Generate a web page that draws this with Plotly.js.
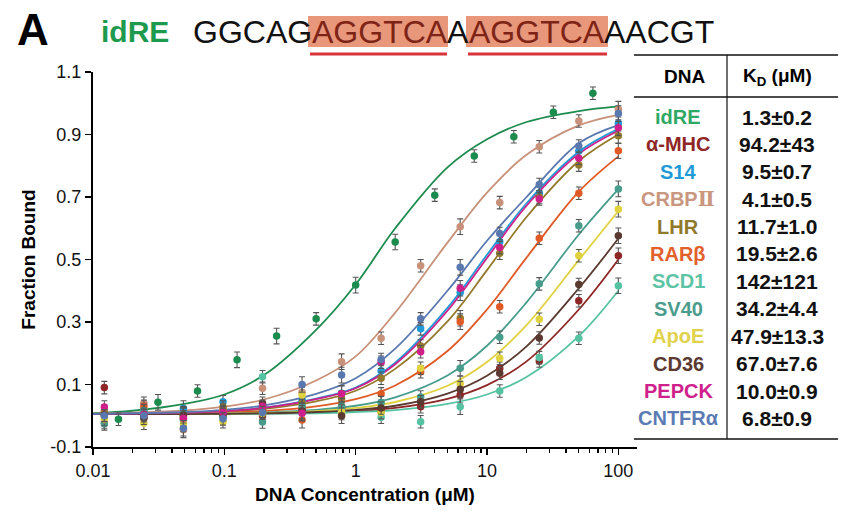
<!DOCTYPE html>
<html>
<head>
<meta charset="utf-8">
<script src="https://cdn.plot.ly/plotly-3.0.1.min.js"></script>
<style>html,body{margin:0;padding:0;background:#fff;}#chart{width:842px;height:512px;}</style>
</head>
<body>
<div id="chart"></div>
<script>
// ---------- DATA ----------
const names = ["idRE","α-MHC","S14","CRBPⅡ","LHR","RARβ","SCD1","SV40","ApoE","CD36","PEPCK","CNTFRα"];
const kdLabels = ["1.3±0.2","94.2±43","9.5±0.7","4.1±0.5","11.7±1.0","19.5±2.6","142±121","34.2±4.4","47.9±13.3","67.0±7.6","10.0±0.9","6.8±0.9"];
const seqParts = ["GGCAG", "AGGTCA", "A", "AGGTCA", "AACGT"];

const conc = [100, 50, 25, 12.5, 6.25, 3.125, 1.5625, 0.78125, 0.390625, 0.1953, 0.0977, 0.0488, 0.0244, 0.0122];
const concIdRE = [64, 32, 16, 8, 4, 2, 1, 0.5, 0.25, 0.125, 0.0625, 0.03125, 0.015625];

const pts_idRE  = [1.032, 0.971, 0.893, 0.831, 0.706, 0.556, 0.418, 0.31, 0.255, 0.179, 0.079, 0.043, -0.011];
const pts_aMHC  = [0.512, 0.368, 0.175, 0.152, 0.066, 0.029, 0.015, 0.02, 0.02, 0.0, 0.0, -0.01, -0.004, 0.09];
const pts_S14   = [0.936, 0.847, 0.712, 0.557, 0.394, 0.278, 0.144, 0.072, 0.05, 0.025, 0.045, 0.023, 0.01, 0.005];
const pts_CRBP  = [0.981, 0.943, 0.861, 0.682, 0.605, 0.48, 0.248, 0.173, 0.075, 0.088, 0.02, -0.045, 0.04, 0.015];
const pts_LHR   = [0.896, 0.802, 0.70, 0.52, 0.312, 0.223, 0.12, 0.055, 0.04, 0.02, 0.028, 0.0, 0.02, 0.01];
const pts_RARb  = [0.848, 0.712, 0.568, 0.349, 0.301, 0.141, 0.07, 0.03, -0.014, 0.015, 0.014, 0.0, 0.03, 0.0];
const pts_SCD1  = [0.416, 0.248, 0.186, 0.079, 0.029, -0.019, -0.005, 0.018, 0.01, 0.125, 0.002, -0.015, 0.015, -0.02];
const pts_SV40  = [0.726, 0.608, 0.422, 0.251, 0.152, 0.06, 0.042, 0.03, 0.029, -0.02, -0.005, 0.005, 0.017, -0.026];
const pts_ApoE  = [0.661, 0.512, 0.309, 0.184, 0.102, 0.152, 0.01, 0.012, 0.066, 0.008, -0.019, -0.026, -0.024, -0.012];
const pts_CD36  = [0.576, 0.42, 0.249, 0.136, 0.085, 0.045, 0.025, 0.0, 0.015, 0.04, 0.005, 0.002, -0.008, 0.002];
const pts_PEPCK = [0.922, 0.824, 0.694, 0.538, 0.408, 0.205, 0.171, 0.07, 0.008, 0.03, 0.01, -0.008, 0.005, 0.028];
const pts_CNTF  = [0.967, 0.863, 0.74, 0.583, 0.475, 0.31, 0.18, 0.13, 0.10, 0.01, -0.01, -0.04, 0.0, 0.0];

const err_idRE  = [0.02, 0.02, 0.02, 0.02, 0.02, 0.025, 0.025, 0.02, 0.025, 0.025, 0.02, 0.025, 0.02];
const err_common = [0.025, 0.02, 0.02, 0.02, 0.025, 0.02, 0.02, 0.025, 0.025, 0.02, 0.02, 0.025, 0.02, 0.02];

// fitted curves
const curveX = [0.01, 0.02, 0.05, 0.1, 0.2, 0.5, 1, 2, 5, 10, 20, 50, 100];
const fit_idRE  = [0.008, 0.016, 0.038, 0.068, 0.13, 0.275, 0.42, 0.60, 0.795, 0.885, 0.94, 0.975, 0.99];
const fit_aMHC  = [0.005, 0.005, 0.0055, 0.006, 0.007, 0.010, 0.015, 0.025, 0.054, 0.098, 0.174, 0.34, 0.50];
const fit_S14   = [0.006, 0.007, 0.010, 0.015, 0.026, 0.055, 0.09, 0.17, 0.345, 0.515, 0.68, 0.845, 0.918];
const fit_CRBP  = [0.007, 0.010, 0.017, 0.029, 0.052, 0.113, 0.19, 0.33, 0.554, 0.714, 0.835, 0.929, 0.963];
const fit_LHR   = [0.006, 0.007, 0.009, 0.013, 0.022, 0.046, 0.08, 0.15, 0.302, 0.466, 0.636, 0.815, 0.90];
const fit_RARb  = [0.005, 0.006, 0.0075, 0.01, 0.015, 0.03, 0.053, 0.097, 0.207, 0.34, 0.506, 0.717, 0.83];
const fit_SCD1  = [0.005, 0.005, 0.005, 0.006, 0.006, 0.008, 0.012, 0.018, 0.038, 0.068, 0.124, 0.255, 0.40];
const fit_SV40  = [0.005, 0.0055, 0.006, 0.008, 0.011, 0.019, 0.032, 0.059, 0.129, 0.224, 0.363, 0.58, 0.725];
const fit_ApoE  = [0.005, 0.0055, 0.006, 0.007, 0.009, 0.015, 0.025, 0.044, 0.096, 0.172, 0.29, 0.498, 0.655];
const fit_CD36  = [0.005, 0.005, 0.0055, 0.006, 0.008, 0.012, 0.019, 0.032, 0.071, 0.128, 0.222, 0.408, 0.567];
const fit_PEPCK = [0.006, 0.007, 0.010, 0.015, 0.025, 0.053, 0.088, 0.165, 0.336, 0.505, 0.672, 0.838, 0.912];
const fit_CNTF  = [0.006, 0.008, 0.012, 0.019, 0.033, 0.07, 0.12, 0.215, 0.40, 0.56, 0.70, 0.872, 0.93];

const xTickVals = [0.01, 0.1, 1, 10, 100];
const xTickText = ["0.01", "0.1", "1", "10", "100"];
const yTickVals = [-0.1, 0.1, 0.3, 0.5, 0.7, 0.9, 1.1];
const yTickText = ["-0.1", "0.1", "0.3", "0.5", "0.7", "0.9", "1.1"];

// ---------- STYLE ----------
const lineColors = ["#1c8c4e","#8e2626","#1f9ad6","#c8917a","#94792c","#e05a26","#55c3a2","#479c8b","#e0d23e","#5a3a30","#cf1f8a","#5a78b0"];
const textColors = ["#2ea862","#8e2626","#1f9ad6","#c9967f","#8f7a2a","#e2602a","#5cc4a4","#4b9c8c","#e0d24a","#5b3a32","#d0208c","#5b7bb4"];

const series = [
  {x: concIdRE, y: pts_idRE, e: err_idRE, f: fit_idRE},
  {x: conc, y: pts_aMHC, e: err_common, f: fit_aMHC},
  {x: conc, y: pts_S14, e: err_common, f: fit_S14},
  {x: conc, y: pts_CRBP, e: err_common, f: fit_CRBP},
  {x: conc, y: pts_LHR, e: err_common, f: fit_LHR},
  {x: conc, y: pts_RARb, e: err_common, f: fit_RARb},
  {x: conc, y: pts_SCD1, e: err_common, f: fit_SCD1},
  {x: conc, y: pts_SV40, e: err_common, f: fit_SV40},
  {x: conc, y: pts_ApoE, e: err_common, f: fit_ApoE},
  {x: conc, y: pts_CD36, e: err_common, f: fit_CD36},
  {x: conc, y: pts_PEPCK, e: err_common, f: fit_PEPCK},
  {x: conc, y: pts_CNTF, e: err_common, f: fit_CNTF}
];

const traces = [];
series.forEach((s, i) => {
  traces.push({
    type: "scatter", mode: "lines", x: curveX, y: s.f, name: names[i] + " fit",
    line: {color: lineColors[i], width: 1.8, shape: "spline", smoothing: 1},
    hoverinfo: "skip", showlegend: false
  });
});
series.forEach((s, i) => {
  traces.push({
    type: "scatter", mode: "markers", x: s.x, y: s.y, name: names[i],
    marker: {color: lineColors[i], size: 7.5},
    error_y: {type: "data", array: s.e, visible: true, color: "#555", thickness: 1.1, width: 3},
    showlegend: false
  });
});

// pixel -> paper helpers (plot area: x 93..637, y 72..447)
const L = 93, R = 637, T = 72, B = 447;
const px = v => (v - L) / (R - L);
const py = v => (B - v) / (B - T);

const FONT = "Liberation Sans, Arial, Helvetica, sans-serif";
const annotations = [];
const shapes = [];

// title line
annotations.push({xref:"paper", yref:"paper", x: px(15), y: py(30), xanchor:"left", yanchor:"middle",
  text:"<b>A</b>", showarrow:false, font:{family:FONT, size:44, color:"#000"}});
annotations.push({xref:"paper", yref:"paper", x: px(99), y: py(32), xanchor:"left", yanchor:"middle",
  text:"<b>idRE</b>", showarrow:false, font:{family:FONT, size:30, color:"#1e9a4e"}});
const seqLeft = [192, 311, 446, 467.5, 602.5];
const seqColor = ["#111", "#7e2416", "#111", "#7e2416", "#111"];
seqParts.forEach((s, i) => {
  annotations.push({xref:"paper", yref:"paper", x: px(seqLeft[i]), y: py(32), xanchor:"left", yanchor:"middle",
    text: s, showarrow:false, borderpad:0, font:{family:FONT, size:32, color:seqColor[i]}});
});
shapes.push({type:"rect", xref:"paper", yref:"paper", x0:px(308), x1:px(448), y0:py(47), y1:py(16), fillcolor:"#e8977b", line:{width:0}, layer:"below"});
shapes.push({type:"rect", xref:"paper", yref:"paper", x0:px(466), x1:px(608), y0:py(47), y1:py(16), fillcolor:"#e8977b", line:{width:0}, layer:"below"});
shapes.push({type:"line", xref:"paper", yref:"paper", x0:px(310), x1:px(447), y0:py(54), y1:py(54), line:{color:"#d8343a", width:3}});
shapes.push({type:"line", xref:"paper", yref:"paper", x0:px(468), x1:px(607), y0:py(54), y1:py(54), line:{color:"#d8343a", width:3}});

// table
shapes.push({type:"line", xref:"paper", yref:"paper", x0:px(634), x1:px(838), y0:py(55), y1:py(55), line:{color:"#111", width:1.5}});
shapes.push({type:"line", xref:"paper", yref:"paper", x0:px(634), x1:px(838), y0:py(97), y1:py(97), line:{color:"#111", width:1.5}});
shapes.push({type:"line", xref:"paper", yref:"paper", x0:px(634), x1:px(838), y0:py(439), y1:py(439), line:{color:"#111", width:1.5}});
shapes.push({type:"line", xref:"paper", yref:"paper", x0:px(727), x1:px(727), y0:py(55), y1:py(439), line:{color:"#111", width:1.2}});
annotations.push({xref:"paper", yref:"paper", x: px(684), y: py(77), xanchor:"center", yanchor:"middle",
  text:"<b>DNA</b>", showarrow:false, font:{family:FONT, size:19, color:"#000"}});
annotations.push({xref:"paper", yref:"paper", x: px(777), y: py(77), xanchor:"center", yanchor:"middle",
  text:"<b>K<sub>D</sub> (μM)</b>", showarrow:false, font:{family:FONT, size:19, color:"#000"}});
const rowTop = 117, rowStep = 27.4;
names.forEach((n, i) => {
  const yy = rowTop + i * rowStep;
  const label = n.replace("Ⅱ", "<span style='font-family:DejaVu Serif'>Ⅱ</span>");
  annotations.push({xref:"paper", yref:"paper", x: px(678), y: py(yy), xanchor:"center", yanchor:"middle",
    text:"<b>" + label + "</b>", showarrow:false, font:{family:FONT, size:20, color:textColors[i]}});
  annotations.push({xref:"paper", yref:"paper", x: px(777), y: py(yy), xanchor:"center", yanchor:"middle",
    text:"<b>" + kdLabels[i] + "</b>", showarrow:false, font:{family:FONT, size:21, color:"#111"}});
});

const layout = {
  width: 842, height: 512,
  margin: {l: L, r: 842 - R, t: T, b: 512 - B},
  paper_bgcolor: "#fff", plot_bgcolor: "#fff",
  showlegend: false,
  font: {family: FONT, color: "#111"},
  xaxis: {
    type: "log", range: [-2, 2.142],
    tickmode: "array", tickvals: xTickVals, ticktext: xTickText,
    ticks: "outside", ticklen: 6, tickwidth: 1.5, tickcolor: "#000",
    showline: true, linewidth: 2, linecolor: "#000",
    showgrid: false, zeroline: false,
    tickfont: {family: FONT, size: 18, color: "#111"},
    minor: {dtick: "D1", ticks: "outside", ticklen: 4, tickwidth: 1.3, tickcolor: "#000", showgrid: false},
    title: {text: "<b>DNA Concentration (μM)</b>", font: {family: FONT, size: 19, color: "#000"}, standoff: 8}
  },
  yaxis: {
    range: [-0.1, 1.1],
    tickmode: "array", tickvals: yTickVals, ticktext: yTickText,
    ticks: "outside", ticklen: 6, tickwidth: 1.5, tickcolor: "#000",
    showline: true, linewidth: 2, linecolor: "#000",
    showgrid: false, zeroline: false,
    tickfont: {family: FONT, size: 18, color: "#111"},
    title: {text: "<b>Fraction Bound</b>", font: {family: FONT, size: 19, color: "#000"}, standoff: 10}
  },
  annotations: annotations,
  shapes: shapes
};

Plotly.newPlot("chart", traces, layout, {displayModeBar: false, staticPlot: true});
</script>
</body>
</html>
